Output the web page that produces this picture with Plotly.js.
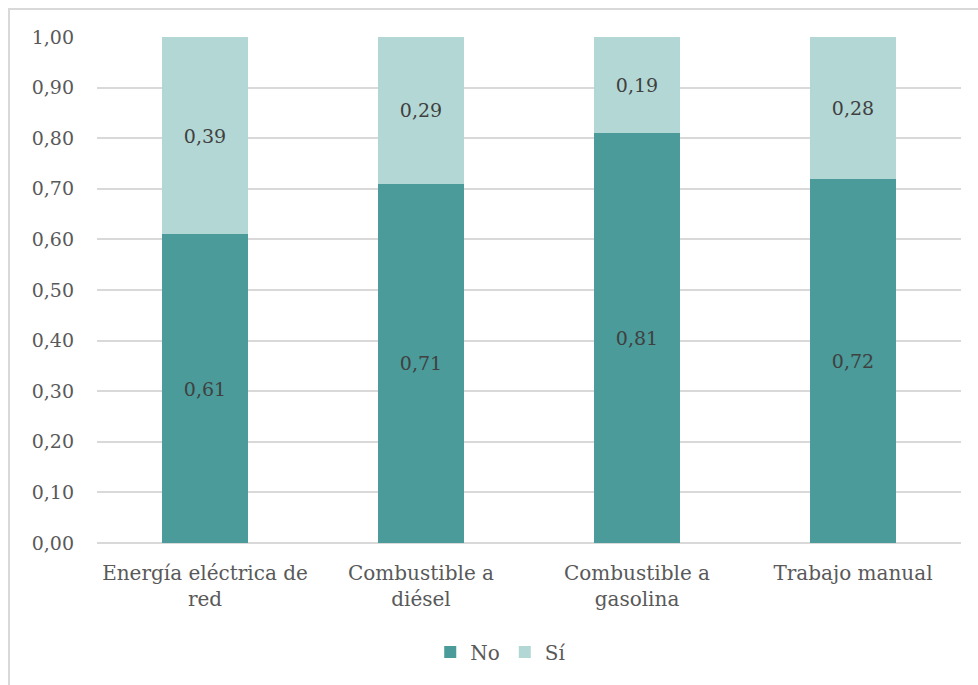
<!DOCTYPE html>
<html>
<head>
<meta charset="utf-8">
<script src="https://cdn.plot.ly/plotly-3.0.1.min.js"></script>
<style>
  html, body { margin: 0; padding: 0; background: #ffffff; overflow: hidden; width: 978px; height: 685px; }
  #frame { position: absolute; left: 8px; top: 8px; width: 975px; height: 685px;
           border-left: 2px solid #d9d9d9; border-top: 2px solid #d9d9d9; }
  #chart { position: absolute; left: 0; top: 0; width: 978px; height: 685px; }
</style>
</head>
<body>
<div id="frame"></div>
<div id="chart"></div>
<script>
// Source of energy used, share answering "No" / "Sí"
const categories = ['Energía eléctrica de<br>red', 'Combustible a<br>diésel', 'Combustible a<br>gasolina', 'Trabajo manual'];
const valuesNo = [0.61, 0.71, 0.81, 0.72];
const valuesSi = [0.39, 0.29, 0.19, 0.28];
const yTicks = [0, 0.1, 0.2, 0.3, 0.4, 0.5, 0.6, 0.7, 0.8, 0.9, 1.0];

const FONT = 'DejaVu Serif, Liberation Serif, serif';
const COLOR_NO = '#4a9b9a';
const COLOR_SI = '#b3d7d5';

const labelFont = { family: FONT, size: 19, color: '#404040' };

const traces = [
  {
    type: 'bar', name: 'No', x: categories, y: valuesNo,
    marker: { color: COLOR_NO },
    texttemplate: '%{y:.2f}', textposition: 'inside', insidetextanchor: 'middle',
    textfont: labelFont, hoverinfo: 'skip'
  },
  {
    type: 'bar', name: 'Sí', x: categories, y: valuesSi,
    marker: { color: COLOR_SI },
    texttemplate: '%{y:.2f}', textposition: 'inside', insidetextanchor: 'middle',
    textfont: labelFont, hoverinfo: 'skip'
  }
];

const layout = {
  width: 978, height: 685,
  barmode: 'stack',
  bargap: 0.6,
  separators: ',.',
  paper_bgcolor: 'rgba(0,0,0,0)',
  plot_bgcolor: 'rgba(0,0,0,0)',
  margin: { l: 97, r: 17, t: 37, b: 142, autoexpand: false },
  font: { family: FONT, color: '#595959' },
  xaxis: {
    type: 'category',
    tickfont: { family: FONT, size: 20, color: '#595959' },
    showgrid: false, zeroline: false, showline: false, ticks: '',
    ticklabelstandoff: 16
  },
  yaxis: {
    range: [0, 1.0],
    tickvals: yTicks,
    tickformat: '.2f',
    tickfont: { family: FONT, size: 19, color: '#595959' },
    gridcolor: '#d9d9d9', gridwidth: 2,
    zeroline: true, zerolinecolor: '#d9d9d9', zerolinewidth: 2,
    showline: false, ticks: '', ticklabelstandoff: 22
  },
  legend: {
    orientation: 'h', x: 0.512, xref: 'container', xanchor: 'center',
    y: 0.048, yref: 'container', yanchor: 'middle',
    font: { family: FONT, size: 20, color: '#595959' },
    itemwidth: 30, traceorder: 'normal'
  },
  showlegend: true
};

Plotly.newPlot('chart', traces, layout, { displayModeBar: false, staticPlot: true });
</script>
</body>
</html>
